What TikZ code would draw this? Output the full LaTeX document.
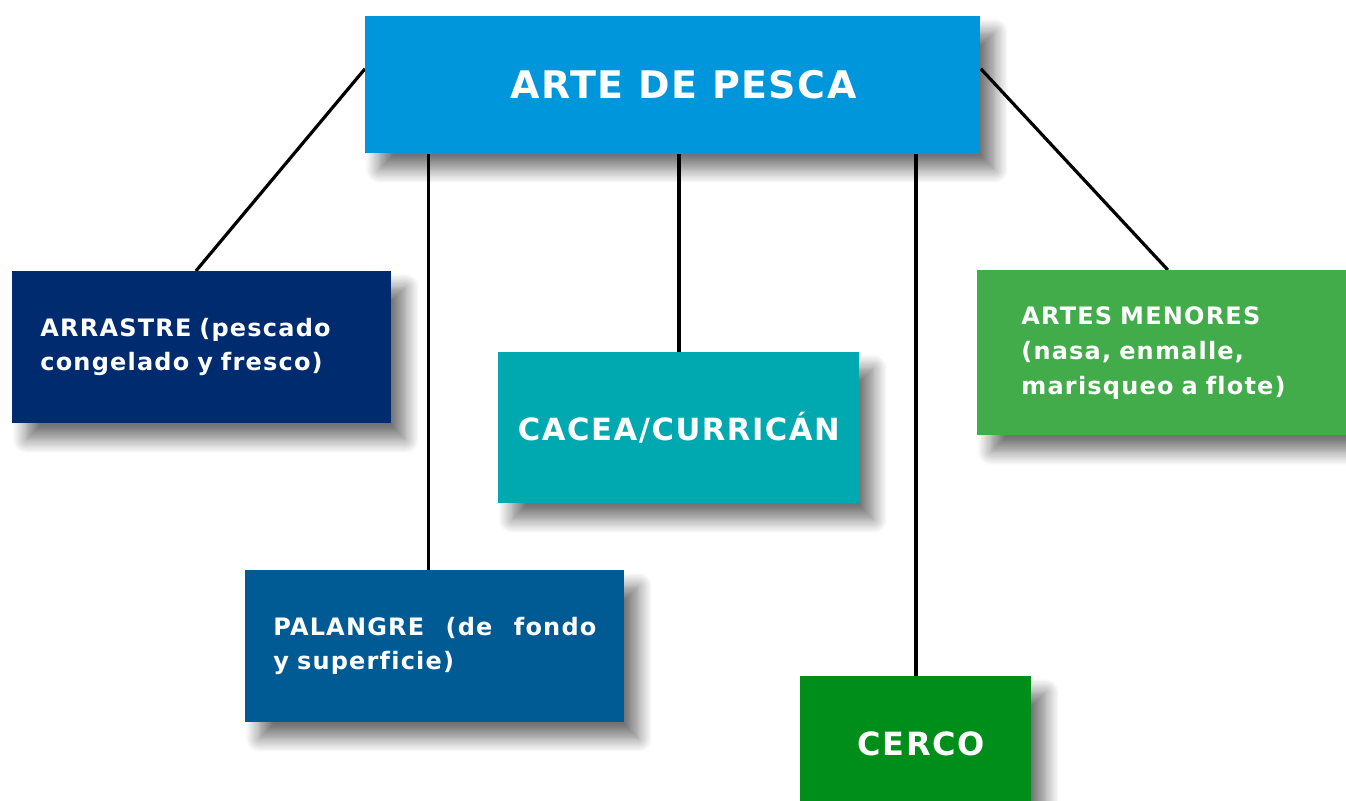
\documentclass[tikz,border=0pt]{standalone}
\usepackage{fontspec}
\setmainfont{DejaVu Sans}
\newfontfamily\boxfont[LetterSpace=5, WordSpace=1.3, Ligatures=NoCommon]{DejaVu Sans}
\newfontfamily\titlefont[LetterSpace=4]{DejaVu Sans}
\usetikzlibrary{shadows.blur,backgrounds}

\definecolor{topblue}{RGB}{0,150,219}
\definecolor{navy}{RGB}{0,43,111}
\definecolor{steel}{RGB}{0,90,147}
\definecolor{teal}{RGB}{0,168,175}
\definecolor{lightgreen}{RGB}{67,172,74}
\definecolor{darkgreen}{RGB}{0,142,27}

\tikzset{
    artbox/.style={
        anchor=north west, text=white,
        blur shadow={shadow xshift=7pt, shadow yshift=-8pt,
            shadow blur radius=7pt, shadow blur steps=12, shadow opacity=55}},
    link/.style={line width=1.6pt, black}
}

\begin{document}
\begin{tikzpicture}[x=0.5pt, y=-0.5pt]
    \useasboundingbox (0,0) rectangle (1346,800);

    \node [artbox, fill=topblue, minimum width=307.5pt, minimum height=68.5pt,
        font=\titlefont\bfseries\fontsize{19}{25}\selectfont] (top) at (365,16)
        {\hspace{10.5pt}ARTE DE PESCA};

    \node [artbox, fill=navy, minimum height=76pt, inner xsep=14pt,
        text width=161.5pt, align=left,
        font=\boxfont\bfseries\fontsize{12}{17}\selectfont] (arrastre) at (12,271)
        {ARRASTRE (pescado\\congelado y fresco)};

    \node [artbox, fill=steel, minimum height=76pt, inner xsep=14pt,
        text width=161.5pt, align=left,
        font=\boxfont\bfseries\fontsize{12}{17}\selectfont] (palangre) at (245,570)
        {PALANGRE\hfill(de\hfill fondo\\y superficie)};

    \node [artbox, fill=teal, minimum width=180.5pt, minimum height=75.5pt,
        font=\boxfont\bfseries\fontsize{15.3}{18}\selectfont] (cacea) at (498,352)
        {CACEA/CURRICÁN};

    \node [artbox, fill=lightgreen, minimum height=82.5pt, inner xsep=22pt,
        text width=140.5pt, align=left,
        font=\boxfont\bfseries\fontsize{12}{17.5}\selectfont] (menores) at (977,270)
        {ARTES MENORES\\(nasa, enmalle,\\marisqueo a flote)};

    \node [artbox, fill=darkgreen, minimum width=115.5pt, minimum height=67pt,
        font=\boxfont\bfseries\fontsize{16}{19}\selectfont] (cerco) at (800,676)
        {\hspace{5.5pt}CERCO};

    \begin{scope}[on background layer]
        \draw [link] (top.177) -- ([xshift=-3pt]arrastre.north);
        \draw [link] (top.3) -- ([xshift=3pt]menores.north);
        \draw [link] ([xshift=-3.25pt]palangre.north)
            -- ([xshift=-3.25pt]palangre.north |- top.south);
        \draw [link] (cacea.north) -- (cacea.north |- top.south);
        \draw [link] (cerco.north) -- (cerco.north |- top.south);
    \end{scope}
\end{tikzpicture}
\end{document}
